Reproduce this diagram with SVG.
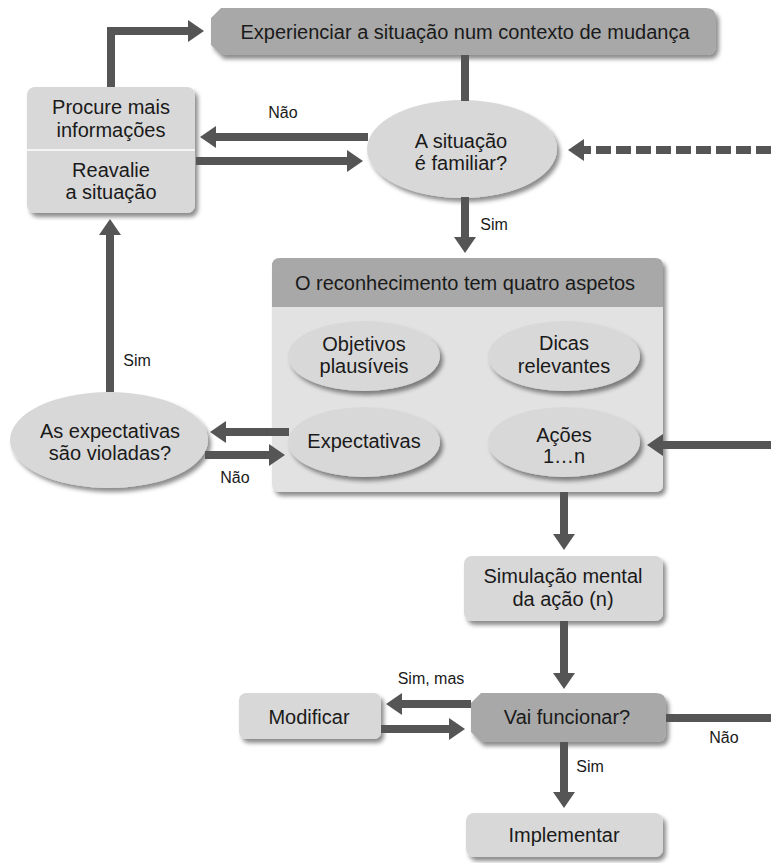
<svg xmlns="http://www.w3.org/2000/svg" width="771" height="863" viewBox="0 0 771 863">
<defs>
<filter id="sh" x="-10%" y="-15%" width="125%" height="140%">
<feDropShadow dx="3" dy="4" stdDeviation="2" flood-color="#000" flood-opacity="0.45"/>
</filter>
<marker id="ah" markerUnits="userSpaceOnUse" orient="auto" markerWidth="20" markerHeight="26" viewBox="-2 -13 20 26" refX="0" refY="0">
<path d="M-1,-11 L15,0 L-1,11 Z" fill="#555"/>
</marker>
<style>
.t{font-family:"Liberation Sans",Arial,sans-serif;font-size:20px;fill:#1a1a1a;text-anchor:middle}
.l{font-family:"Liberation Sans",Arial,sans-serif;font-size:16px;fill:#1a1a1a;text-anchor:middle}
.lt{fill:#d8d8d8}
.dk{fill:#a8a8a8}
.bd{fill:#e2e2e2}
.c{fill:none;stroke:#555;stroke-width:8;marker-end:url(#ah)}
.cn{fill:none;stroke:#555;stroke-width:8}
</style>
</defs>
<rect width="771" height="863" fill="#fff"/>

<g id="experienciar">
<path class="dk" filter="url(#sh)" d="M221,8 H706 Q716,8 716,18 V45 Q716,55 706,55 H221 L211,45 V18 Z"/>
<text class="t" x="465" y="39">Experienciar a situação num contexto de mudança</text>
</g>

<g id="procure-reavalie">
<rect class="lt" filter="url(#sh)" x="27" y="87" width="168" height="126" rx="8"/>
<line x1="27" y1="150" x2="195" y2="150" stroke="#f4f4f4" stroke-width="2"/>
<text class="t" x="111" y="114">Procure mais</text>
<text class="t" x="111" y="137">informações</text>
<text class="t" x="111" y="177">Reavalie</text>
<text class="t" x="111" y="199">a situação</text>
</g>

<g id="familiar">
<ellipse class="lt" filter="url(#sh)" cx="462" cy="149" rx="95" ry="49"/>
<text class="t" x="461" y="148">A situação</text>
<text class="t" x="461" y="170">é familiar?</text>
</g>

<g id="reconhecimento">
<path class="bd" filter="url(#sh)" d="M280,258 H655 Q663,258 663,266 V484 Q663,492 655,492 H280 Q272,492 272,484 V266 Q272,258 280,258 Z"/>
<path class="dk" d="M280,258 H655 Q663,258 663,266 V307 H272 V266 Q272,258 280,258 Z"/>
<text class="t" x="465" y="290">O reconhecimento tem quatro aspetos</text>
</g>

<g id="objetivos">
<ellipse class="lt" filter="url(#sh)" cx="364" cy="356" rx="76" ry="35"/>
<text class="t" x="364" y="351">Objetivos</text>
<text class="t" x="364" y="373">plausíveis</text>
</g>

<g id="dicas">
<ellipse class="lt" filter="url(#sh)" cx="564" cy="356" rx="76" ry="35"/>
<text class="t" x="564" y="350">Dicas</text>
<text class="t" x="564" y="373">relevantes</text>
</g>

<g id="expectativas">
<ellipse class="lt" filter="url(#sh)" cx="364" cy="442" rx="76" ry="35"/>
<text class="t" x="364" y="448">Expectativas</text>
</g>

<g id="acoes">
<ellipse class="lt" filter="url(#sh)" cx="564" cy="442" rx="76" ry="35"/>
<text class="t" x="564" y="442">Ações</text>
<text class="t" x="564" y="463">1…n</text>
</g>

<g id="violadas">
<ellipse class="lt" filter="url(#sh)" cx="109" cy="440" rx="99" ry="48"/>
<text class="t" x="110" y="438">As expectativas</text>
<text class="t" x="110" y="460">são violadas?</text>
</g>

<g id="simulacao">
<rect class="lt" filter="url(#sh)" x="464" y="556" width="199" height="65" rx="8"/>
<text class="t" x="563" y="583">Simulação mental</text>
<text class="t" x="563" y="606">da ação (n)</text>
</g>

<g id="vai-funcionar">
<path class="dk" filter="url(#sh)" d="M481,693 H656 Q666,693 666,703 V732 Q666,742 656,742 H481 L471,732 V703 Z"/>
<text class="t" x="567" y="724">Vai funcionar?</text>
</g>

<g id="modificar">
<rect class="lt" filter="url(#sh)" x="239" y="693" width="142" height="46" rx="7"/>
<text class="t" x="309" y="724">Modificar</text>
</g>

<g id="implementar">
<rect class="lt" filter="url(#sh)" x="466" y="813" width="197" height="44" rx="8"/>
<text class="t" x="564" y="842">Implementar</text>
</g>

<g id="connectors">
<path class="c" d="M111,87 V31 H189"/>
<path class="cn" d="M465,55 V101"/>
<path class="c" d="M368,137 H215"/>
<path class="c" d="M196,161 H348"/>
<path class="c" d="M771,150 H583" stroke-dasharray="15 5"/>
<path class="c" d="M465,197 V238"/>
<path class="c" d="M289,432 H225"/>
<path class="c" d="M205,455 H270"/>
<path class="c" d="M110,392 V234"/>
<path class="c" d="M771,445 H662"/>
<path class="c" d="M564,492 V535"/>
<path class="c" d="M564,621 V674"/>
<path class="c" d="M471,704 H401"/>
<path class="c" d="M381,729 H450"/>
<path class="cn" d="M666,718 H771"/>
<path class="c" d="M564,742 V793"/>
</g>

<g id="labels">
<text class="l" x="283" y="118">Não</text>
<text class="l" x="494" y="230">Sim</text>
<text class="l" x="137" y="366">Sim</text>
<text class="l" x="235" y="483">Não</text>
<text class="l" x="431" y="684">Sim, mas</text>
<text class="l" x="724" y="743">Não</text>
<text class="l" x="590" y="772">Sim</text>
</g>
</svg>
